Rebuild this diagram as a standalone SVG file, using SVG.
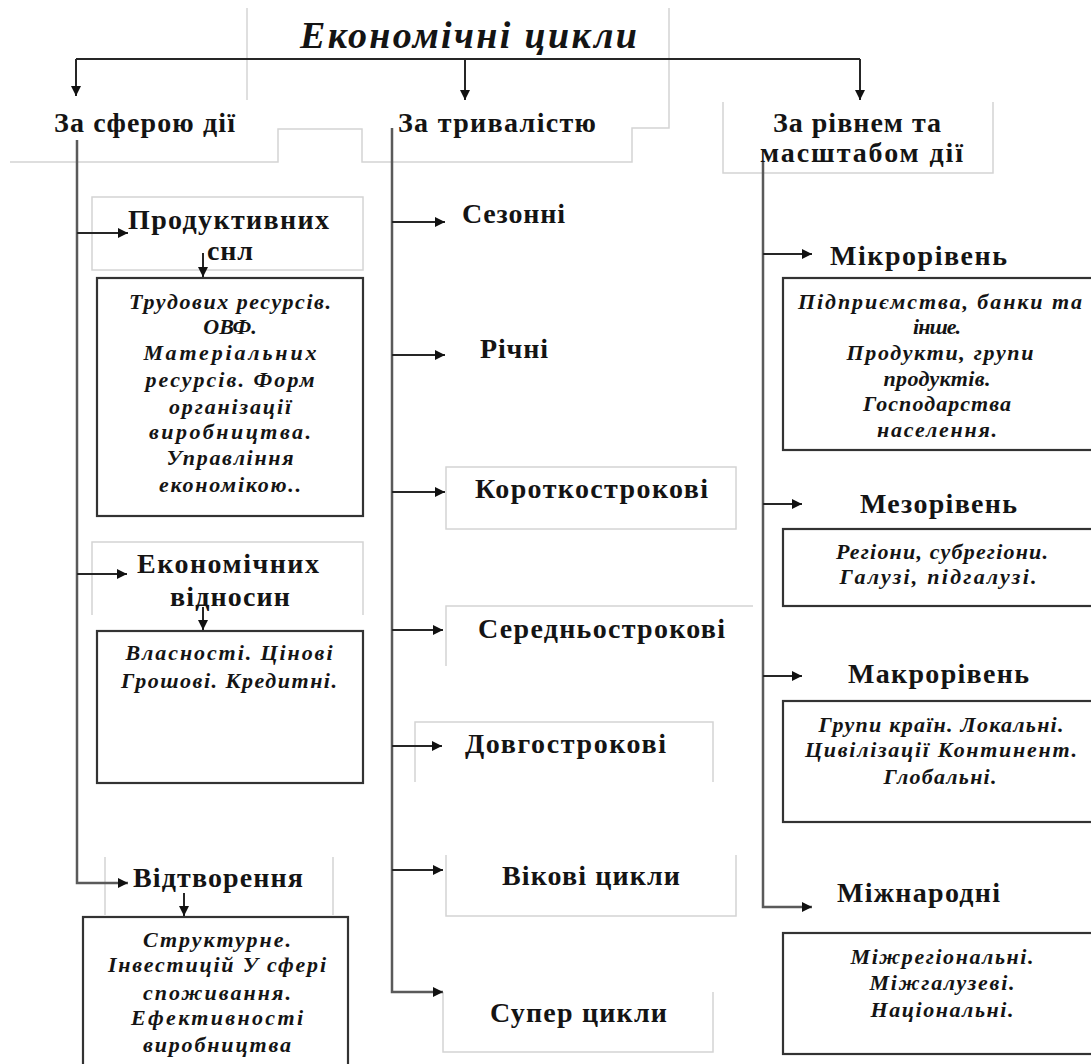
<svg xmlns="http://www.w3.org/2000/svg" width="1091" height="1064" viewBox="0 0 1091 1064">
<style>
.t{font-family:"Liberation Serif","Times New Roman",serif;font-weight:bold;fill:#141414;font-size:28px;}
.ttl{font-family:"Liberation Serif","Times New Roman",serif;font-weight:bold;font-style:italic;fill:#141414;font-size:38px;}
.i{font-family:"Liberation Serif","Times New Roman",serif;font-weight:bold;font-style:italic;fill:#141414;font-size:22px;text-anchor:middle;}
.g{fill:none;stroke:#d4d4d4;stroke-width:1.5;}
.b{fill:#fff;stroke:#333;stroke-width:2.2;}
.c{fill:none;stroke:#262626;stroke-width:2;}
.tr{fill:none;stroke:#5a5a5a;stroke-width:2.5;}
</style>
<defs>
<marker id="ah" viewBox="0 0 10 10" refX="10" refY="5" markerWidth="11" markerHeight="10" markerUnits="userSpaceOnUse" orient="auto">
<path d="M0,0 L10,5 L0,10 z" fill="#111"/>
</marker>
</defs>
<rect width="1091" height="1064" fill="#fff"/>

<g id="decor">
<path class="g" d="M247,8 V100"/>
<path class="g" d="M669,8 V128 H632 V162 H362 V129 H278 V162 H10"/>
</g>

<g id="title">
<text class="ttl" x="300" y="48" textLength="337" lengthAdjust="spacing">Економічні цикли</text>
</g>

<g id="n-sphere">
<text class="t" x="54" y="132" textLength="181" lengthAdjust="spacing">За сферою дії</text>
</g>
<g id="n-duration">
<text class="t" x="398" y="132" textLength="198" lengthAdjust="spacing">За тривалістю</text>
</g>
<g id="n-level">
<path class="g" d="M723,102 V173 H993 V102"/>
<text class="t" x="773" y="132" textLength="168" lengthAdjust="spacing">За рівнем та</text>
<text class="t" x="760" y="162" textLength="203" lengthAdjust="spacing">масштабом  дії</text>
</g>

<!-- left column -->
<g id="n-prod">
<rect class="g" x="92" y="197" width="271" height="73"/>
<text class="t" x="128" y="229" textLength="201" lengthAdjust="spacing">Продуктивних</text>
<text class="t" x="207" y="260" textLength="46" lengthAdjust="spacing">снл</text>
</g>
<g id="n-prod-list">
<rect class="b" x="97" y="278" width="266" height="238"/>
<text class="i" x="230" y="309" textLength="202" lengthAdjust="spacing">Трудових ресурсів.</text>
<text class="i" x="230" y="334">ОВФ.</text>
<text class="i" x="230" y="360" textLength="173" lengthAdjust="spacing">Матеріальних</text>
<text class="i" x="230" y="387" textLength="169" lengthAdjust="spacing">ресурсів. Форм</text>
<text class="i" x="230" y="414" textLength="122" lengthAdjust="spacing">організації</text>
<text class="i" x="230" y="439" textLength="162" lengthAdjust="spacing">виробництва.</text>
<text class="i" x="230" y="465" textLength="127" lengthAdjust="spacing">Управління</text>
<text class="i" x="230" y="492" textLength="142" lengthAdjust="spacing">економікою..</text>
</g>

<g id="n-econ">
<path class="g" d="M92,615 V542 H363 V615"/>
<text class="t" x="137" y="573" textLength="182" lengthAdjust="spacing">Економічних</text>
<text class="t" x="170" y="606" textLength="120" lengthAdjust="spacing">відносин</text>
</g>
<g id="n-econ-list">
<rect class="b" x="97" y="631" width="266" height="152"/>
<text class="i" x="229" y="660" textLength="207" lengthAdjust="spacing">Власності. Цінові</text>
<text class="i" x="229" y="688" textLength="216" lengthAdjust="spacing">Грошові. Кредитні.</text>
</g>

<g id="n-repro">
<path class="g" d="M105,857 V915 M333,857 V915"/>
<text class="t" x="133" y="887" textLength="170" lengthAdjust="spacing">Відтворення</text>
</g>
<g id="n-repro-list">
<rect class="b" x="83" y="917" width="265" height="160"/>
<text class="i" x="217" y="947" textLength="148" lengthAdjust="spacing">Структурне.</text>
<text class="i" x="217" y="972" textLength="218" lengthAdjust="spacing">Інвестицій У сфері</text>
<text class="i" x="217" y="1000" textLength="148" lengthAdjust="spacing">споживання.</text>
<text class="i" x="217" y="1025" textLength="172" lengthAdjust="spacing">Ефективності</text>
<text class="i" x="217" y="1052" textLength="148" lengthAdjust="spacing">виробництва</text>
</g>

<!-- middle column -->
<g id="n-season">
<text class="t" x="462" y="223" textLength="103" lengthAdjust="spacing">Сезонні</text>
</g>
<g id="n-annual">
<text class="t" x="480" y="358" textLength="68" lengthAdjust="spacing">Річні</text>
</g>
<g id="n-short">
<rect class="g" x="446" y="467" width="290" height="62"/>
<text class="t" x="475" y="498" textLength="233" lengthAdjust="spacing">Короткострокові</text>
</g>
<g id="n-medium">
<path class="g" d="M446,666 V606 H753"/>
<text class="t" x="478" y="638" textLength="247" lengthAdjust="spacing">Середньострокові</text>
</g>
<g id="n-long">
<path class="g" d="M415,782 V722 H713 V782"/>
<text class="t" x="465" y="753" textLength="201" lengthAdjust="spacing">Довгострокові</text>
</g>
<g id="n-secular">
<path class="g" d="M446,855 V916 H736 V855"/>
<text class="t" x="502" y="885" textLength="178" lengthAdjust="spacing">Вікові цикли</text>
</g>
<g id="n-super">
<path class="g" d="M443,992 V1052 H713 V992"/>
<text class="t" x="490" y="1022" textLength="177" lengthAdjust="spacing">Супер цикли</text>
</g>

<!-- right column -->
<g id="n-micro">
<text class="t" x="830" y="265" textLength="177" lengthAdjust="spacing">Мікрорівень</text>
</g>
<g id="n-micro-list">
<rect class="b" x="783" y="278" width="330" height="172"/>
<text class="i" x="940" y="309" textLength="284" lengthAdjust="spacing">Підприємства, банки та</text>
<text class="i" x="937" y="334" textLength="48" lengthAdjust="spacing">інше.</text>
<text class="i" x="940" y="360" textLength="187" lengthAdjust="spacing">Продукти, групи</text>
<text class="i" x="937" y="386" textLength="107" lengthAdjust="spacing">продуктів.</text>
<text class="i" x="937" y="411" textLength="148" lengthAdjust="spacing">Господарства</text>
<text class="i" x="937" y="437" textLength="120" lengthAdjust="spacing">населення.</text>
</g>

<g id="n-meso">
<text class="t" x="860" y="513" textLength="157" lengthAdjust="spacing">Мезорівень</text>
</g>
<g id="n-meso-list">
<rect class="b" x="783" y="529" width="330" height="77"/>
<text class="i" x="942" y="559" textLength="212" lengthAdjust="spacing">Регіони, субрегіони.</text>
<text class="i" x="938" y="584" textLength="197" lengthAdjust="spacing">Галузі, підгалузі.</text>
</g>

<g id="n-macro">
<text class="t" x="848" y="683" textLength="181" lengthAdjust="spacing">Макрорівень</text>
</g>
<g id="n-macro-list">
<rect class="b" x="783" y="701" width="330" height="121"/>
<text class="i" x="941" y="732" textLength="245" lengthAdjust="spacing">Групи країн. Локальні.</text>
<text class="i" x="941" y="757" textLength="272" lengthAdjust="spacing">Цивілізації  Континент.</text>
<text class="i" x="940" y="784" textLength="113" lengthAdjust="spacing">Глобальні.</text>
</g>

<g id="n-intl">
<text class="t" x="837" y="902" textLength="163" lengthAdjust="spacing">Міжнародні</text>
</g>
<g id="n-intl-list">
<rect class="b" x="783" y="933" width="330" height="121"/>
<text class="i" x="942" y="964" textLength="183" lengthAdjust="spacing">Міжрегіональні.</text>
<text class="i" x="942" y="990" textLength="145" lengthAdjust="spacing">Міжгалузеві.</text>
<text class="i" x="942" y="1017" textLength="143" lengthAdjust="spacing">Національні.</text>
</g>

<g id="connectors">
<path class="c" d="M76,59 H860"/>
<path class="c" d="M76,59 V96" marker-end="url(#ah)"/>
<path class="c" d="M465,59 V100" marker-end="url(#ah)"/>
<path class="c" d="M860,59 V100" marker-end="url(#ah)"/>

<path class="tr" d="M77,140 V883 H128" marker-end="url(#ah)"/>
<path class="c" d="M77,233 H128" marker-end="url(#ah)"/>
<path class="c" d="M77,574 H127" marker-end="url(#ah)"/>
<path class="c" d="M203,253 V277" marker-end="url(#ah)"/>
<path class="c" d="M203,607 V630" marker-end="url(#ah)"/>
<path class="c" d="M184,893 V916" marker-end="url(#ah)"/>

<path class="tr" d="M392,128 V992 H443" marker-end="url(#ah)"/>
<path class="c" d="M392,222 H445" marker-end="url(#ah)"/>
<path class="c" d="M392,355 H445" marker-end="url(#ah)"/>
<path class="c" d="M392,492 H445" marker-end="url(#ah)"/>
<path class="c" d="M392,630 H443" marker-end="url(#ah)"/>
<path class="c" d="M392,746 H442" marker-end="url(#ah)"/>
<path class="c" d="M392,870 H443" marker-end="url(#ah)"/>

<path class="tr" d="M763,162 V907 H812" marker-end="url(#ah)"/>
<path class="c" d="M763,254 H812" marker-end="url(#ah)"/>
<path class="c" d="M763,504 H802" marker-end="url(#ah)"/>
<path class="c" d="M763,676 H802" marker-end="url(#ah)"/>
</g>
</svg>
